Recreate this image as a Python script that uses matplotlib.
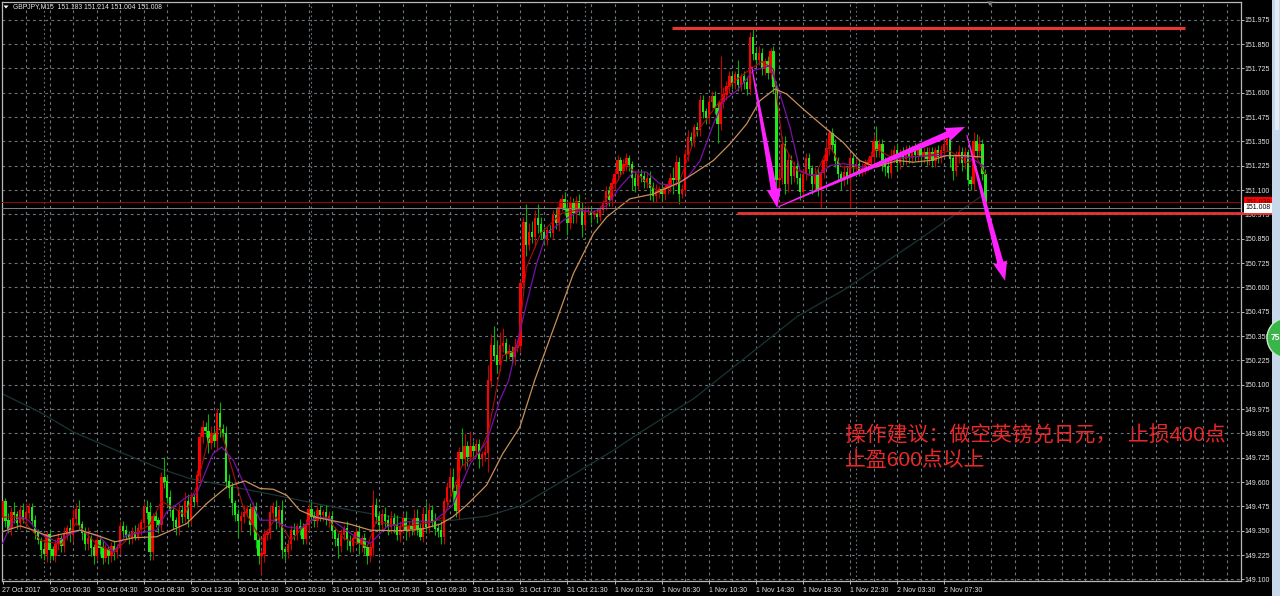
import numpy as np
import matplotlib
matplotlib.use('Agg')
import matplotlib.pyplot as plt
from matplotlib.patches import Polygon, Rectangle, Circle
from matplotlib.transforms import IdentityTransform

# M15 candles. open of a bar = close of the bar before it
first_open = 149.42
closes = [
    149.50,149.40,149.36,149.44,149.43,149.39,149.45,149.41,149.44,149.47,149.40,149.34,149.30,149.25,149.23,149.33,
    149.25,149.22,149.28,149.31,149.27,149.33,149.36,149.33,149.41,149.46,149.38,149.34,149.28,149.31,149.26,149.22,
    149.30,149.26,149.21,149.25,149.22,149.27,149.24,149.26,149.37,149.35,149.33,149.31,149.34,149.32,149.36,149.39,
    149.47,149.44,149.24,149.42,149.40,149.38,149.62,149.60,149.52,149.45,149.40,149.37,149.45,149.42,149.50,149.41,
    149.52,149.50,149.63,149.83,149.88,149.86,149.80,149.85,149.81,149.95,149.87,149.85,149.60,149.57,149.49,149.43,
    149.40,149.42,149.44,149.46,149.38,149.47,149.30,149.22,149.23,149.33,149.34,149.44,149.47,149.40,149.45,149.25,
    149.24,149.28,149.35,149.33,149.37,149.36,149.31,149.38,149.46,149.42,149.40,149.45,149.43,149.44,149.41,149.42,
    149.35,149.31,149.27,149.33,149.36,149.30,149.27,149.31,149.34,149.28,149.31,149.26,149.22,149.26,149.48,149.42,
    149.38,149.43,149.40,149.37,149.41,149.38,149.33,149.37,149.41,149.35,149.37,149.36,149.41,149.36,149.32,149.43,
    149.37,149.45,149.40,149.36,149.35,149.32,149.50,149.57,149.62,149.55,149.45,149.75,149.72,149.78,149.73,149.78,
    149.76,149.79,149.72,149.74,149.75,150.12,150.30,150.25,150.20,150.30,150.31,150.26,150.27,150.24,150.29,150.30,
    150.62,150.93,150.82,150.88,150.86,150.95,150.92,150.88,150.85,150.89,150.88,150.97,150.93,151.01,151.05,151.00,
    150.93,151.03,150.98,151.04,151.00,150.92,150.99,150.99,150.97,150.98,150.96,151.00,151.03,151.09,151.05,151.13,
    151.18,151.25,151.20,151.23,151.26,151.23,151.16,151.12,151.18,151.17,151.14,151.16,151.11,151.07,151.09,151.10,
    151.08,151.11,151.12,151.16,151.15,151.24,151.08,151.10,151.28,151.37,151.35,151.42,151.41,151.56,151.50,151.47,
    151.55,151.58,151.52,151.44,151.55,151.59,151.63,151.68,151.65,151.69,151.64,151.68,151.65,151.62,151.88,151.80,
    151.77,151.80,151.72,151.76,151.70,151.81,151.63,151.15,151.16,151.33,151.13,151.25,151.17,151.22,151.16,151.09,
    151.18,151.26,151.21,151.13,151.18,151.10,151.19,151.25,151.31,151.39,151.33,151.25,151.18,151.15,151.19,151.16,
    151.26,151.22,151.23,151.20,151.21,151.23,151.24,151.27,151.35,151.30,151.33,151.24,151.22,151.19,151.27,151.30,
    151.24,151.28,151.26,151.30,151.27,151.30,151.28,151.31,151.27,151.29,151.26,151.29,151.25,151.30,151.27,151.30,
    151.33,151.36,151.26,151.20,151.27,151.29,151.24,151.29,151.15,151.13,151.35,151.30,151.33,151.18,151.008]

# wick lengths past the body, in 0.01 price
upper_wicks = [
    1,2,4,3,6,2,3,4,5,2,2,3,2,2,4,2,
    3,2,3,3,2,4,2,5,5,3,5,2,3,6,2,2,
    4,3,4,3,2,2,3,2,3,3,3,2,3,4,3,2,
    3,4,6,2,3,2,3,11,3,4,3,2,4,3,5,4,
    3,2,3,2,4,3,9,4,3,3,6,3,4,4,3,2,
    3,3,4,2,3,3,3,2,2,3,2,4,3,4,3,6,
    2,3,3,4,2,4,3,3,3,4,3,3,3,2,4,3,
    3,2,3,3,2,4,3,2,3,4,2,3,2,3,8,4,
    3,3,4,3,4,3,5,3,3,4,3,4,5,5,3,4,
    7,4,3,4,3,5,2,3,5,5,4,3,13,7,3,8,
    3,3,3,2,4,8,6,10,8,7,8,3,4,3,5,2,
    2,3,10,5,6,5,8,4,3,2,3,3,4,4,3,4,
    4,4,3,3,4,4,3,3,3,2,3,2,2,3,3,3,
    3,3,2,3,3,2,2,4,2,3,3,3,4,3,4,2,
    3,2,3,3,6,4,3,3,3,4,3,2,3,3,3,2,
    3,3,3,3,24,4,3,3,3,2,8,2,3,3,3,5,
    3,4,3,2,3,2,3,3,5,5,5,4,3,3,3,3,
    3,3,3,2,4,4,2,3,5,2,3,3,2,2,4,3,
    3,3,3,3,3,3,3,3,4,8,3,3,3,3,4,3,
    4,3,4,3,3,3,4,3,3,3,3,3,3,2,3,3,
    3,3,4,2,3,4,3,3,2,2,5,4,5,3,3]

lower_wicks = [
    2,3,2,3,4,3,3,2,3,3,2,3,2,4,3,4,
    5,2,3,3,3,3,3,4,4,3,2,4,3,3,4,4,
    2,3,3,2,4,3,4,3,3,3,2,3,3,2,2,3,
    3,3,4,4,3,4,3,3,3,3,4,4,4,3,3,4,
    3,3,3,5,3,3,5,3,3,5,4,2,3,5,6,3,
    8,5,3,2,5,3,4,4,9,4,3,3,3,4,3,4,
    4,3,3,3,3,3,3,3,3,2,3,3,3,3,3,4,
    3,4,6,3,3,5,3,3,3,5,4,3,4,3,4,3,
    3,3,3,4,3,4,3,4,3,5,3,3,3,3,2,3,
    3,3,3,3,3,4,4,3,4,5,3,4,3,6,5,2,
    3,3,5,4,3,10,3,3,4,3,3,4,3,3,4,2,
    3,3,6,3,3,5,4,3,3,3,2,3,3,4,2,3,
    6,3,5,5,3,6,2,2,4,2,3,2,2,3,3,3,
    3,3,3,2,3,3,6,3,2,3,3,3,6,3,3,3,
    3,3,3,3,7,3,5,2,2,3,3,3,3,3,3,3,
    3,3,3,10,3,3,3,3,3,3,3,3,3,3,3,3,
    3,3,3,3,3,3,3,3,5,3,5,4,4,3,3,4,
    3,3,3,5,3,3,9,3,3,3,3,3,3,5,3,3,
    15,3,3,3,3,3,3,3,3,3,3,4,5,3,3,3,
    4,3,3,3,3,3,3,3,3,3,3,3,3,3,3,3,
    3,3,4,5,3,3,4,3,3,3,3,3,3,3,0]

# moving averages, vertices (bar index, price)
ma_slow_bars = [0,6,10.5,16,26.3,32,38.2,44.5,52.4,62.6,69.4,76.2,82.4,87.5,92,96.6,101,106.8,
                118,125,134,142,148.7,153,157.7,164.5,170,175.8,180.9,188.3,194,200.8,205.3,213.2,221.2,
                230.2,234.7,241.6,247.2,252.9,257.4,262.5,266.5,272.1,280,285.6,291.2,296.9,304.2,309.5,315.2,320.8,326.6,333.3]
ma_slow = [149.345,149.375,149.353,149.319,149.353,149.327,149.293,149.314,149.319,149.387,149.49,149.575,149.606,149.567,149.563,149.532,149.455,149.418,
           149.384,149.353,149.35,149.356,149.384,149.421,149.481,149.584,149.746,149.882,150.125,150.432,150.671,150.876,150.961,151.055,151.08,
           151.14,151.183,151.252,151.337,151.44,151.559,151.619,151.593,151.516,151.414,151.346,151.252,151.218,151.252,151.243,151.252,151.277,151.277,151.269]

ma_mid_bars = [0,3,6.2,8.8,12.7,18.4,23.5,26.3,33,37.7,42,49,52.4,55.8,62.6,66,71.5,74.5,78.4,83,87.5,92,96.6,101,106.8,
               111.3,119.2,125,130.5,137.3,146.4,153,159,164.5,169,172,177,181.5,184.9,190.6,196.2,200.8,205.3,209.8,214.4,218.9,223.4,228,232.5,
               237,241.6,245,249.5,255.1,260.8,264.2,267.6,271,274.4,277.8,281.2,285.8,290.3,294.8,300.5,307.3,316.3,325.4,330.5,333.9]
ma_mid = [149.285,149.387,149.421,149.404,149.336,149.293,149.336,149.353,149.319,149.242,149.327,149.345,149.353,149.447,149.524,149.541,149.746,149.78,149.712,149.558,149.404,149.404,149.37,149.362,149.421,
          149.412,149.327,149.285,149.37,149.396,149.396,149.481,149.695,149.806,150.02,150.122,150.449,150.722,150.876,150.944,150.995,150.987,151.02,151.115,151.192,151.192,151.132,151.124,151.158,
          151.25,151.44,151.559,151.61,151.713,151.739,151.593,151.422,151.2,151.175,151.183,151.226,151.235,151.226,151.209,151.252,151.269,151.277,151.277,151.252,151.218]

ma_fast_bars = [0,6,13,20,25,32,38,44,50,54,58,62,66,70,74,77,82,88,93,98,104,110,116,124,127,135,145,150,156,162,165,170,175,178,183,
                190,196,202,208,212,218,223,230,236,242,248,254,258,262,265,270,276,281,285,292,297,303,315,322,328,331,334]
ma_fast = [149.42,149.42,149.30,149.28,149.39,149.28,149.24,149.33,149.38,149.50,149.47,149.43,149.58,149.82,149.88,149.72,149.46,149.30,149.42,149.30,149.40,149.42,149.31,149.27,149.40,149.37,149.39,149.42,149.68,149.75,149.85,150.25,150.28,150.70,150.88,
           150.98,151.00,150.98,151.12,151.23,151.15,151.09,151.14,151.40,151.52,151.65,151.72,151.76,151.72,151.35,151.20,151.17,151.33,151.22,151.21,151.31,151.26,151.28,151.30,151.24,151.27,151.18]

ma_long_bars = [0,12.7,24.1,40,53.6,63.7,77.3,93,107.9,126,142,153,164.5,175.8,191.7,207.6,216,235,255,270,285.8,309.5,332.2]
ma_long = [150.053,149.959,149.857,149.754,149.669,149.618,149.578,149.532,149.485,149.435,149.404,149.404,149.425,149.476,149.618,149.763,149.848,150.03,150.27,150.45,150.586,150.825,151.064]

# hand drawn stuff on the chart
resistance = 151.93
resistance_bars = (227.5, 401.8)
support = 150.982
support_bars = (249.6, 434.0)
arrow_tails = [(254.6, 151.734), (263.5, 151.013), (327.7, 151.383)]
arrow_tips = [(263.3, 151.008), (327.1, 151.424), (340.7, 150.634)]

bid_price = 151.008
ask_price = 151.038
price_ticks = [149.100 + 0.125 * k for k in range(24)]
time_labels = ['27 Oct 2017', '30 Oct 00:30', '30 Oct 04:30', '30 Oct 08:30', '30 Oct 12:30', '30 Oct 16:30',
               '30 Oct 20:30', '31 Oct 01:30', '31 Oct 05:30', '31 Oct 09:30', '31 Oct 13:30', '31 Oct 17:30',
               '31 Oct 21:30', '1 Nov 02:30', '1 Nov 06:30', '1 Nov 10:30', '1 Nov 14:30', '1 Nov 18:30',
               '1 Nov 22:30', '2 Nov 03:30', '2 Nov 07:30']
day_breaks = [14, 105, 198, 290]
header = 'GBPJPY,M15  151.183 151.214 151.004 151.008'
note_1 = '操作建议：做空英镑兑日元，  止损400点'
note_2 = '止盈600点以上'

W, H = 1280, 596
FONT = ['Liberation Sans', 'DejaVu Sans']
NOTE_FONT = ['Liberation Sans', 'Noto Sans CJK SC', 'DejaVu Sans']
GRID = '#6c747e'
FRAME = '#b8b8b8'
TEXT = '#e6e6e6'
MAGENTA = '#ff22ff'
LINE_RED = '#ea3434'


def draw_arrow(ax, tail, tip):
    # tapered arrow, thin at the tail. built in pixels so it keeps its shape
    t = ax.transData.transform(tail)
    p = ax.transData.transform(tip)
    d = (p - t) / np.hypot(*(p - t))
    n = np.array([-d[1], d[0]])
    base = p - d * 19
    pts = [t + n * 0.5, base + n * 3.2, base + n * 7, p, base - n * 7, base - n * 3.2, t - n * 0.5]
    ax.add_patch(Polygon(pts, closed=True, facecolor=MAGENTA, edgecolor='none',
                         transform=IdentityTransform(), clip_on=False, zorder=8))


def main():
    fig = plt.figure(figsize=(W / 100, H / 100), dpi=100, facecolor='black')
    ax = fig.add_axes([1.5 / W, (H - 581) / H, 1239.5 / W, 579 / H], facecolor='black')
    ax.set_xlim((1.5 - 2.5) / 2.9427, (1241 - 2.5) / 2.9427)
    ax.set_ylim(151.975 - 561.3 / 194.68, 151.975 + 17.7 / 194.68)

    c = np.array(closes)
    o = np.concatenate([[first_open], c[:-1]])
    top = np.maximum(o, c)
    bottom = np.minimum(o, c)
    high = top + np.array(upper_wicks) * 0.01
    low = bottom - np.array(lower_wicks) * 0.01
    bars = np.arange(len(c))
    up = c >= o

    # grid
    for b in range(8, 424, 8):
        ax.axvline(b, color=GRID, lw=0.8, ls=(0, (2.5, 3)), zorder=1)
    for b in day_breaks:
        ax.axvline(b, color=GRID, lw=0.8, ls=(0, (1.5, 2.5)), zorder=1)
    for p in price_ticks:
        ax.axhline(p, color=GRID, lw=0.8, ls=(0, (2.5, 3)), zorder=1)

    ax.plot(ma_long_bars, ma_long, color='#1c3434', lw=0.9, zorder=2)

    # candles, up bars red and down bars green
    ax.vlines(bars[up], low[up], high[up], color='#c80000', lw=0.8, zorder=3)
    ax.vlines(bars[~up], low[~up], high[~up], color='#00b400', lw=0.8, zorder=3)
    ax.bar(bars[up], (top - bottom)[up] + 0.004, bottom=bottom[up], width=0.8, color='#ff0000', lw=0, zorder=4)
    ax.bar(bars[~up], (top - bottom)[~up] + 0.004, bottom=bottom[~up], width=0.8, color='#1eea1e', lw=0, zorder=4)

    ax.plot(ma_fast_bars, ma_fast, color='#a80f0f', lw=0.8, zorder=5)
    ax.plot(ma_mid_bars, ma_mid, color='#7a10a8', lw=0.9, zorder=5)
    ax.plot(ma_slow_bars, ma_slow, color='#c89058', lw=0.9, zorder=5)

    ax.axhline(ask_price, color='#980808', lw=0.7, zorder=6)
    ax.axhline(bid_price, color='#7c8288', lw=0.7, zorder=6)

    ax.plot(resistance_bars, [resistance, resistance], color=LINE_RED, lw=2.2, zorder=7, solid_capstyle='butt')
    ax.plot(support_bars, [support, support], color=LINE_RED, lw=2.0, zorder=7, solid_capstyle='butt', clip_on=False)

    for tail, tip in zip(arrow_tails, arrow_tips):
        draw_arrow(ax, tail, tip)

    ax.text(286.3, 149.842, note_1, color='#e82828', fontsize=15, family=NOTE_FONT, va='center', ha='left', zorder=9)
    ax.text(286.3, 149.711, note_2, color='#e82828', fontsize=15, family=NOTE_FONT, va='center', ha='left', zorder=9)

    # axes
    for s in ax.spines.values():
        s.set_color(FRAME)
        s.set_linewidth(0.9)
    ax.yaxis.tick_right()
    ax.set_yticks(price_ticks)
    ax.set_yticklabels(['%.3f' % p for p in price_ticks], family=FONT, fontsize=5.0, color=TEXT)
    ax.set_xticks([16 * k for k in range(len(time_labels))])
    ax.set_xticklabels(time_labels, family=FONT, fontsize=5.05, color=TEXT, ha='left')
    ax.tick_params(axis='y', length=2.2, width=0.7, color=FRAME, pad=0.6)
    ax.tick_params(axis='x', length=2, width=0.7, color=FRAME, pad=2)
    for lab in ax.get_xticklabels():
        lab.set_x(lab.get_position()[0])

    # price tags on the scale
    for price, face, fg in [(ask_price, '#ff0000', '#400000'), (bid_price, '#ffffff', '#000000')]:
        ax.text(1.0035, price, '%.3f' % price, transform=ax.get_yaxis_transform(), va='center', ha='left',
                family=FONT, fontsize=5.0, color=fg, zorder=10, clip_on=False,
                bbox=dict(boxstyle='square,pad=0.22', facecolor=face, edgecolor='none'))

    # header in the corner
    fig.text(13 / W, 1 - 7 / H, header, family=FONT, fontsize=4.9, color=TEXT, va='center', ha='left')
    fig.add_artist(Polygon([(3.5 / W, 1 - 5.5 / H), (8.5 / W, 1 - 5.5 / H), (6 / W, 1 - 8.5 / H)],
                           closed=True, facecolor='white', edgecolor='none', transform=fig.transFigure))
    fig.add_artist(Polygon([(987 / W, 1 - 1.5 / H), (993 / W, 1 - 1.5 / H), (990 / W, 1 - 6 / H)],
                           closed=True, facecolor='#808080', edgecolor='none', transform=fig.transFigure))

    # window scroll bar and the green badge on the right edge
    fig.add_artist(Rectangle((1272 / W, 0), 8 / W, 1, facecolor='#c6d8ea', edgecolor='none', transform=fig.transFigure))
    fig.add_artist(Rectangle((1275 / W, 1 - 130 / H), 4 / W, 130 / H, facecolor='#e4edf6', edgecolor='none', transform=fig.transFigure))
    fig.add_artist(Circle((1287, H - 338), 20, facecolor='#39b54a', edgecolor='#c8e8c8', lw=1, transform=IdentityTransform()))
    fig.text(1270.3 / W, 1 - 338 / H, '75', family=FONT, fontsize=6.2, color='white', va='center', ha='left', weight='bold')

    fig.savefig('out.png', dpi=100, facecolor='black')


if __name__ == '__main__':
    main()
